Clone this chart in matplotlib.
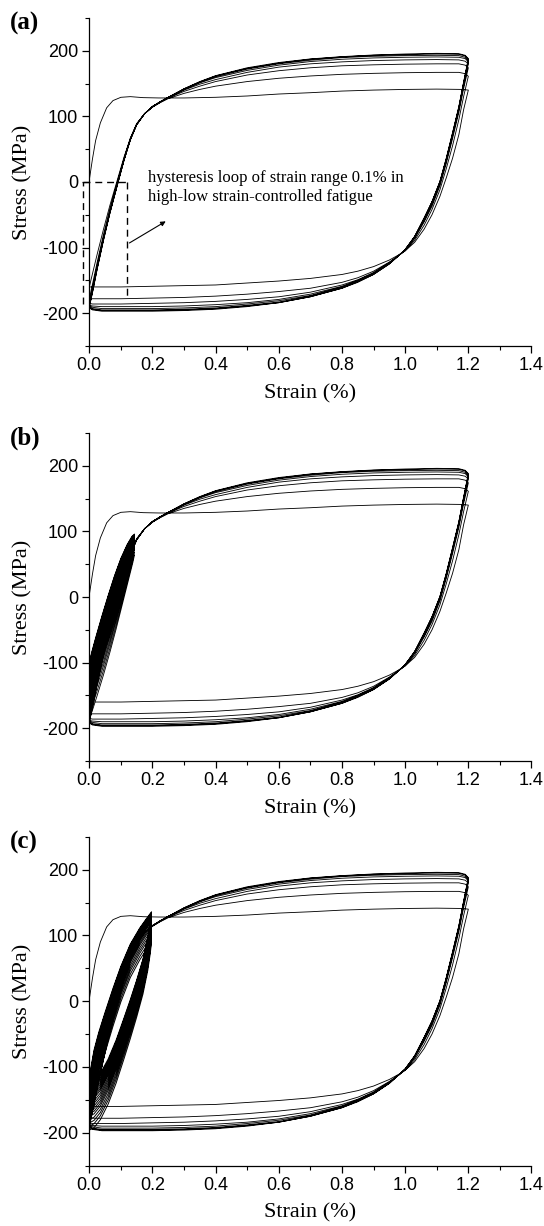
import matplotlib
matplotlib.use("Agg")
import matplotlib.pyplot as plt
import numpy as np
from matplotlib.ticker import MultipleLocator, FixedLocator

plt.rcParams['axes.unicode_minus'] = False

# ---------------- data (strain in %, stress in MPa) ----------------
# first (monotonic) loading
MONO_STRAIN = [0.000, 0.010, 0.020, 0.035, 0.055, 0.075, 0.100, 0.130, 0.170, 0.220,
               0.300, 0.400, 0.500, 0.600, 0.700, 0.800, 0.900, 1.000, 1.100, 1.180, 1.200]
MONO_STRESS = [3, 35, 63, 90, 113, 124, 129, 130, 128.5, 128,
               128, 129, 131, 134, 136, 138.5, 140, 141, 141.5, 141, 140]

# loading branches (strain increasing 0 -> 1.2) of cycles 2..8
LOAD_STRAIN = [0.000, 0.010, 0.025, 0.045, 0.065, 0.090, 0.110, 0.130, 0.150, 0.175, 0.200,
               0.225, 0.250, 0.300, 0.350, 0.400, 0.500, 0.600, 0.700, 0.800, 0.900,
               1.000, 1.100, 1.170, 1.190, 1.200]
LOAD_2 = [-160, -140, -110, -72, -36, 5, 38, 67, 89, 104, 114, 121, 127, 135, 141, 146,
          153, 158, 161.5, 164, 165.5, 166.5, 167, 167, 165, 161]
LOAD_3 = [-178, -156, -122, -80, -42, 2, 36, 66, 88, 104, 114, 121.5, 128, 138, 146, 153,
          163, 169.5, 174, 177, 178.5, 179.5, 180, 180, 178, 174]
LOAD_4 = [-185, -162, -127, -84, -45, 0, 35, 66, 88, 104, 114.5, 122, 128.5, 140, 149, 156,
          167, 175, 180, 183, 185, 186, 186.5, 186, 184, 180]
LOAD_5 = [-188, -165, -129, -86, -46, -1, 34, 65, 88, 104, 115, 122, 129, 141, 151, 159,
          170, 178, 183.5, 187, 189, 190, 190.5, 190, 188, 183]
LOAD_6 = [-189, -167, -131, -87, -47, -2, 34, 65, 87, 104, 115, 122, 129, 141.5, 152, 160.5,
          172, 180, 185.5, 189.5, 191.5, 192.5, 193, 192.5, 190, 185]
LOAD_7 = [-190, -168, -132, -88, -48, -2, 33, 64, 87, 104, 115, 122.5, 129, 142, 152.5, 161.5,
          173, 181, 187, 190.5, 193, 194, 195, 194.5, 192, 187]
LOAD_8 = [-191, -169, -133, -89, -48, -3, 33, 64, 87, 104, 115, 122.5, 129, 142, 153, 162,
          174, 182, 187.5, 191, 193.5, 195, 196, 195.5, 193, 188]

# unloading branches (strain decreasing 1.2 -> 0) of cycles 1..8
UNLOAD_STRAIN = [1.200, 1.185, 1.170, 1.150, 1.130, 1.110, 1.085, 1.060, 1.030, 1.000,
                 0.980, 0.950, 0.900, 0.850, 0.800, 0.700, 0.600, 0.500, 0.400, 0.300,
                 0.200, 0.100, 0.040, 0.010, 0.000]
UNLOAD_1 = [140, 110, 72, 36, 6, -22, -50, -72, -92, -105, -111, -119, -129, -136, -141,
            -147, -151, -154, -157, -158, -159, -160, -160, -160, -160]
UNLOAD_2 = [161, 130, 95, 55, 20, -12, -42, -66, -89, -105, -112, -122, -136, -146, -153,
            -162, -167, -171, -174, -176, -177, -178, -178, -178, -178]
UNLOAD_3 = [174, 142, 106, 66, 28, -6, -37, -61, -86, -104, -112, -123, -138, -149, -157,
            -168, -175, -179, -182, -184, -185, -186, -186, -186, -185]
UNLOAD_4 = [180, 146, 110, 70, 31, -3, -34, -59, -85, -104, -112, -124, -139, -150, -159,
            -171, -179, -184, -187, -189, -190, -190, -190, -189, -188]
UNLOAD_5 = [183, 148, 112, 72, 33, -1, -32, -57, -84, -103, -112, -124, -140, -151, -160,
            -173, -181, -186, -190, -192, -193, -193, -193, -191, -189]
UNLOAD_6 = [185, 150, 113, 73, 34, 0, -31, -56, -84, -103, -112, -124, -140, -152, -161,
            -174, -183, -188, -192, -194, -195, -195, -195, -193, -190]
UNLOAD_7 = [187, 151, 114, 74, 35, 0, -30, -55, -83, -103, -112, -125, -141, -152, -162,
            -175, -184, -189, -193, -195, -196, -196, -196, -194, -191]
UNLOAD_8 = [188, 152, 115, 75, 36, 1, -30, -55, -83, -103, -112, -125, -141, -153, -162,
            -175, -184, -190, -194, -196, -197, -197, -197, -195, -192]

# (b) small loops, strain range 0 - 0.14 %: reference loop shape + loop extremes
B_LOAD_STRAIN = [0.000, 0.008, 0.020, 0.040, 0.060, 0.080, 0.100, 0.120, 0.135, 0.143]
B_LOAD_REF = [-140, -122, -98, -60, -24, 10, 40, 64, 78, 82]
B_UNL_STRAIN = [0.143, 0.138, 0.125, 0.105, 0.085, 0.065, 0.045, 0.025, 0.010, 0.000]
B_UNL_REF = [82, 72, 50, 16, -18, -50, -80, -108, -128, -140]
B_LOOP_MAX = [64, 68, 72, 75, 78, 80, 82, 84, 85, 86, 87, 88, 89, 90, 91, 92, 93, 94, 95, 96]
B_LOOP_MIN = [-186, -178, -170, -163, -156, -150, -145, -140, -135, -131, -127, -123,
              -119, -115, -112, -109, -106, -103, -101, -99]

# (c) small loops, strain range 0 - 0.2 %
C_LOAD_STRAIN = [0.000, 0.005, 0.015, 0.030, 0.050, 0.075, 0.100, 0.130, 0.160, 0.180, 0.197]
C_LOAD_REF = [-175, -148, -116, -84, -48, -5, 35, 75, 104, 120, 133]
C_UNL_STRAIN = [0.197, 0.193, 0.185, 0.170, 0.150, 0.130, 0.110, 0.085, 0.060, 0.035, 0.015, 0.000]
C_UNL_REF = [133, 114, 86, 48, 10, -25, -58, -98, -132, -158, -171, -175]
C_LOOP_MAX = [90, 95, 100, 104, 108, 112, 115, 118, 121, 123, 125, 127, 129, 130, 131,
              132, 133, 134, 135, 136]
C_LOOP_MIN = [-196, -190, -185, -180, -175, -171, -167, -163, -159, -155, -151, -148,
              -145, -142, -139, -136, -133, -130, -127, -124]

# annotation (panel a)
NOTE_TEXT = "hysteresis loop of strain range 0.1% in\nhigh-low strain-controlled fatigue"
NOTE_XY = (0.185, -8)
ARROW_FROM = (0.127, -93)
ARROW_TO = (0.242, -60)
BOX_X = [-0.021, 0.118]
BOX_TOP = 0
BOX_LEFT_BOTTOM = -186
BOX_RIGHT_BOTTOM = -178

X_TICKS = [0.0, 0.2, 0.4, 0.6, 0.8, 1.0, 1.2, 1.4]
X_TICKLABELS = ["0.0", "0.2", "0.4", "0.6", "0.8", "1.0", "1.2", "1.4"]
Y_TICKS = [-200, -100, 0, 100, 200]
Y_TICKLABELS = ["-200", "-100", "0", "100", "200"]
PANEL_LABELS = ["(a)", "(b)", "(c)"]

# ---------------- figure ----------------
W, H = 544, 1226
fig = plt.figure(figsize=(W / 100, H / 100), dpi=100)

LEFT_PX, RIGHT_PX = 89.3, 531.5
panel_px = [(17.9, 346.0), (432.9, 761.1), (836.8, 1165.6)]

TICK_FONT = "Liberation Sans"
SERIF = "Liberation Serif"
LW = 0.62


def big_loops():
    xs = [np.asarray(MONO_STRAIN)]
    ys = [np.asarray(MONO_STRESS, float)]
    loads = [None, LOAD_2, LOAD_3, LOAD_4, LOAD_5, LOAD_6, LOAD_7, LOAD_8]
    unloads = [UNLOAD_1, UNLOAD_2, UNLOAD_3, UNLOAD_4, UNLOAD_5, UNLOAD_6, UNLOAD_7, UNLOAD_8]
    for i in range(8):
        if loads[i] is not None:
            xs.append(np.asarray(LOAD_STRAIN))
            ys.append(np.asarray(loads[i], float))
        xs.append(np.asarray(UNLOAD_STRAIN))
        ys.append(np.asarray(unloads[i], float))
    return np.concatenate(xs), np.concatenate(ys)


def small_loops(lx, lref, ux, uref, mins, maxs):
    lref = np.asarray(lref, float)
    uref = np.asarray(uref, float)
    rmin, rmax = lref[0], lref[-1]
    xs, ys = [], []
    for mn, mx in zip(mins, maxs):
        sl = mn + (lref - rmin) / (rmax - rmin) * (mx - mn)
        su = mn + (uref - rmin) / (rmax - rmin) * (mx - mn)
        xs += [np.asarray(lx), np.asarray(ux)]
        ys += [sl, su]
    return np.concatenate(xs), np.concatenate(ys)


bx, by = big_loops()

for k, (top, bot) in enumerate(panel_px):
    ax = fig.add_axes([LEFT_PX / W, 1 - bot / H, (RIGHT_PX - LEFT_PX) / W, (bot - top) / H])
    ax.plot(bx, by, color="black", lw=LW, solid_joinstyle="round")
    if k == 1:
        sx, sy = small_loops(B_LOAD_STRAIN, B_LOAD_REF, B_UNL_STRAIN, B_UNL_REF,
                             B_LOOP_MIN, B_LOOP_MAX)
        ax.plot(sx, sy, color="black", lw=LW)
    if k == 2:
        sx, sy = small_loops(C_LOAD_STRAIN, C_LOAD_REF, C_UNL_STRAIN, C_UNL_REF,
                             C_LOOP_MIN, C_LOOP_MAX)
        ax.plot(sx, sy, color="black", lw=0.7)
    if k == 0:
        dash = dict(color="black", lw=1.0, ls=(0, (5, 3.5)), clip_on=False)
        ax.plot([BOX_X[0], BOX_X[0]], [BOX_LEFT_BOTTOM, BOX_TOP], **dash)
        ax.plot([BOX_X[0], BOX_X[1]], [BOX_TOP, BOX_TOP], **dash)
        ax.plot([BOX_X[1], BOX_X[1]], [BOX_TOP, BOX_RIGHT_BOTTOM], **dash)
        ax.annotate("", xy=ARROW_TO, xytext=ARROW_FROM,
                    arrowprops=dict(arrowstyle="-|>", color="black", lw=0.8,
                                    mutation_scale=7, shrinkA=0, shrinkB=0))
        ax.text(NOTE_XY[0], NOTE_XY[1], NOTE_TEXT, family=SERIF, fontsize=12,
                va="center", ha="left", linespacing=1.25)

    ax.set_xlim(0, 1.4)
    ax.set_ylim(-250, 250)
    for s in ("top", "right"):
        ax.spines[s].set_visible(False)
    for s in ("left", "bottom"):
        ax.spines[s].set_linewidth(0.9)
    ax.xaxis.set_major_locator(FixedLocator(X_TICKS))
    ax.set_xticklabels(X_TICKLABELS)
    ax.yaxis.set_major_locator(FixedLocator(Y_TICKS))
    ax.set_yticklabels(Y_TICKLABELS)
    ax.xaxis.set_minor_locator(MultipleLocator(0.1))
    ax.yaxis.set_minor_locator(MultipleLocator(50))
    ax.tick_params(which="major", direction="out", length=5, width=0.9, pad=3,
                   labelsize=13)
    ax.tick_params(which="minor", direction="out", length=3, width=0.8)
    for lab in ax.get_xticklabels() + ax.get_yticklabels():
        lab.set_family(TICK_FONT)
    ax.set_xlabel("Strain (%)", family=SERIF, fontsize=16, labelpad=7)
    ax.set_ylabel("Stress (MPa)", family=SERIF, fontsize=16, labelpad=7)

    fig.text(10 / W, 1 - (top + 5.5) / H, PANEL_LABELS[k], family=SERIF,
             fontsize=18, fontweight="bold", ha="left", va="center")

fig.savefig("out.png", dpi=100)
